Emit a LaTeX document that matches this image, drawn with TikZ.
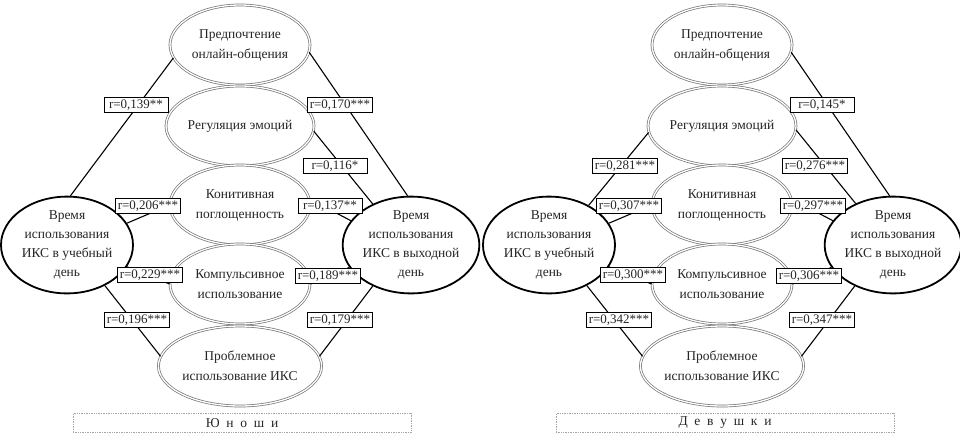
\documentclass[tikz,border=0pt]{standalone}
\usepackage{fontspec}
\setmainfont{Liberation Serif}
\usetikzlibrary{shapes.geometric}
\begin{document}
\begin{tikzpicture}[x=1pt,y=-1pt,
  factor/.style={ellipse, draw=black!55, double=white, double distance=1.3pt, line width=0.7pt, fill=white,
    minimum width=140pt, minimum height=80pt, inner sep=0pt, align=center, text=black!85,
    font=\fontsize{13.5}{20}\selectfont},
  timeell/.style={ellipse, draw=black, line width=1.8pt, fill=white, minimum width=132pt, minimum height=84pt,
    inner sep=0pt, align=center, text=black!85, font=\fontsize{13.5}{19}\selectfont},
  link/.style={draw=black, line width=1.1pt},
  coef/.style={draw=black, line width=0.7pt, fill=white, minimum width=64pt, text height=9.5pt, text depth=2.5pt,
    inner xsep=2pt, inner ysep=1.5pt, text=black!85, font=\fontsize{13}{15}\selectfont},
  groupbox/.style={draw=gray!70, densely dotted, line width=0.7pt, minimum width=338pt, minimum height=19pt,
    inner sep=0pt, text=black!85, font=\fontsize{13.5}{16}\selectfont}
]
\useasboundingbox (0,0) rectangle (960,437);

% ---------- left panel (Юноши) ----------
\node[factor] (aT) at (240,45) {Предпочтение\\онлайн-общения};
\node[factor] (aG) at (240,126) {Регуляция эмоций};
\node[factor] (aK) at (240,205) {Конитивная\\поглощенность};
\node[factor] (aC) at (240,284) {Компульсивное\\использование};
\node[factor] (aP) at (240,366) {Проблемное\\использование ИКС};
\node[timeell] (aL) at (67,245) {Время\\использования\\ИКС в учебный\\день};
\node[timeell] (aR) at (411,245) {Время\\использования\\ИКС в выходной\\день};

\draw[link] (aL.86) -- (aT.191);
\draw[link] (aT.-6) -- (aR.94);
\draw[link] (aG.-4) -- (aR.133);
\draw[link] (aL.20) -- (aK.180);
\draw[link] (aK.5) -- (aR.158);
\draw[link] (aL.-20) -- (aC.180);
\draw[link] (aC.0) -- (aR.200);
\draw[link] (aL.-47) -- (aP.173);
\draw[link] (aP.7) -- (aR.227);

\node[coef] (a1) at (136,105) {r=0,139**};
\node[coef] (a2) at (340,105) {r=0,170***};
\node[coef] (a3) at (335,166) {r=0,116*};
\node[coef] (a4) at (148,206) {r=0,206***};
\node[coef] (a5) at (330,206) {r=0,137**};
\node[coef] (a6) at (150,275) {r=0,229***};
\node[coef] (a7) at (328,276) {r=0,189***};
\node[coef] (a8) at (137,320) {r=0,196***};
\node[coef] (a9) at (340,320) {r=0,179***};

\node[groupbox] (aBox) at (242,423) {{\spaceskip=0.5em\relax Ю н о ш и}};

% ---------- right panel (Девушки) ----------
\node[factor] (bT) at (722,45) {Предпочтение\\онлайн-общения};
\node[factor] (bG) at (722,126) {Регуляция эмоций};
\node[factor] (bK) at (722,205) {Конитивная\\поглощенность};
\node[factor] (bC) at (722,284) {Компульсивное\\использование};
\node[factor] (bP) at (722,366) {Проблемное\\использование ИКС};
\node[timeell] (bL) at (549,245) {Время\\использования\\ИКС в учебный\\день};
\node[timeell] (bR) at (893,245) {Время\\использования\\ИКС в выходной\\день};

\draw[link] (bT.-6) -- (bR.94);
\draw[link] (bL.45) -- (bG.185);
\draw[link] (bG.-3) -- (bR.132);
\draw[link] (bL.20) -- (bK.180);
\draw[link] (bK.5) -- (bR.158);
\draw[link] (bL.-20) -- (bC.180);
\draw[link] (bC.0) -- (bR.200);
\draw[link] (bL.-47) -- (bP.173);
\draw[link] (bP.7) -- (bR.227);

\node[coef] (b1) at (822,105) {r=0,145*};
\node[coef] (b2) at (625,166) {r=0,281***};
\node[coef] (b3) at (815,166) {r=0,276***};
\node[coef] (b4) at (629,206) {r=0,307***};
\node[coef] (b5) at (813,206) {r=0,297***};
\node[coef] (b6) at (633,275) {r=0,300***};
\node[coef] (b7) at (809,276) {r=0,306***};
\node[coef] (b8) at (619,320) {r=0,342***};
\node[coef] (b9) at (822,320) {r=0,347***};

\node[groupbox] (bBox) at (725,423) {{\spaceskip=0.5em\relax Д е в у ш к и}};
\end{tikzpicture}
\end{document}
